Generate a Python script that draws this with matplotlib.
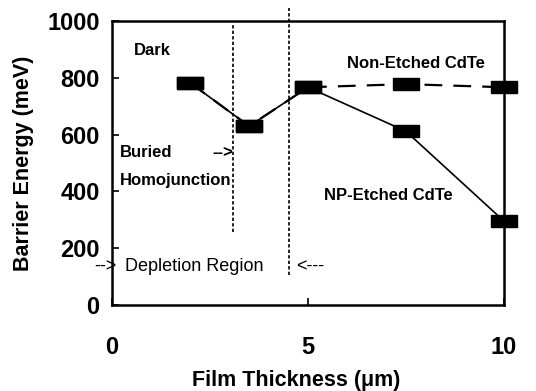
import matplotlib
matplotlib.use('Agg')
import numpy as np
from matplotlib import pyplot as plt

plt.rcParams['font.family'] = ['Liberation Sans', 'DejaVu Sans']

# data
thickness = [2.0, 3.5, 5.0, 7.5, 10.0]
non_etched = [782, 630, 767, 778, 767]
np_etched = [782, 630, 767, 612, 296]

x_ticks = [0, 5, 10]
y_ticks = [0, 200, 400, 600, 800, 1000]

# depletion region boundaries (x, lower end of dotted line)
depl_x = [3.09, 4.52]
depl_ymin = [257, 105]
depl_ytop = [995, 1045]

# wide rectangle marker
rect = [(-1.0, -0.42), (1.0, -0.42), (1.0, 0.42), (-1.0, 0.42), (-1.0, -0.42)]


def main():
    fig = plt.figure(figsize=(5.36, 3.91), dpi=100)
    ax = fig.add_axes([0.209, 0.22, 0.731, 0.726])

    ax.plot(thickness, np_etched, color='black', lw=1.2, marker=rect,
            markersize=19, markerfacecolor='black', markeredgecolor='black',
            clip_on=False, zorder=3)
    ax.plot(thickness, non_etched, color='black', lw=1.6, ls=(0, (8, 5)),
            marker=rect, markersize=19, markerfacecolor='black',
            markeredgecolor='black', clip_on=False, zorder=3)

    for xv, y0, y1 in zip(depl_x, depl_ymin, depl_ytop):
        ax.plot([xv, xv], [y0, y1], color='black', lw=1.2, ls=(0, (2, 1.3)),
                clip_on=False, zorder=2)

    ax.set_xlim(0, 10)
    ax.set_ylim(0, 1000)
    ax.set_xticks(x_ticks)
    ax.set_yticks(y_ticks)
    ax.tick_params(axis='both', direction='in', length=5, width=1.2,
                   labelsize=17)
    ax.tick_params(axis='x', pad=22)
    ax.tick_params(axis='y', pad=9)
    for lab in ax.get_xticklabels() + ax.get_yticklabels():
        lab.set_fontweight('bold')
    for sp in ax.spines.values():
        sp.set_linewidth(1.8)

    ax.set_xlabel('Film Thickness (\u03bcm)', fontsize=15.5, fontweight='bold')
    ax.xaxis.set_label_coords(0.47, -0.228)
    ax.set_ylabel('Barrier Energy (meV)', fontsize=15.5, fontweight='bold')
    ax.yaxis.set_label_coords(-0.198, 0.5)

    bold = {'fontsize': 12, 'fontweight': 'bold', 'va': 'center'}
    ax.text(0.55, 895, 'Dark', **bold)
    ax.text(6.0, 850, 'Non-Etched CdTe', **bold)
    ax.text(0.2, 538, 'Buried', **bold)
    ax.text(2.55, 538, '-->', **bold)
    ax.text(0.2, 438, 'Homojunction', **bold)
    ax.text(5.4, 387, 'NP-Etched CdTe', **bold)

    norm = {'fontsize': 13, 'va': 'center'}
    ax.text(-0.45, 134, '-->', **norm)
    ax.text(0.33, 134, 'Depletion Region', **norm)
    ax.text(4.7, 134, '<---', **norm)

    fig.savefig('out.png', dpi=100)


if __name__ == '__main__':
    main()
